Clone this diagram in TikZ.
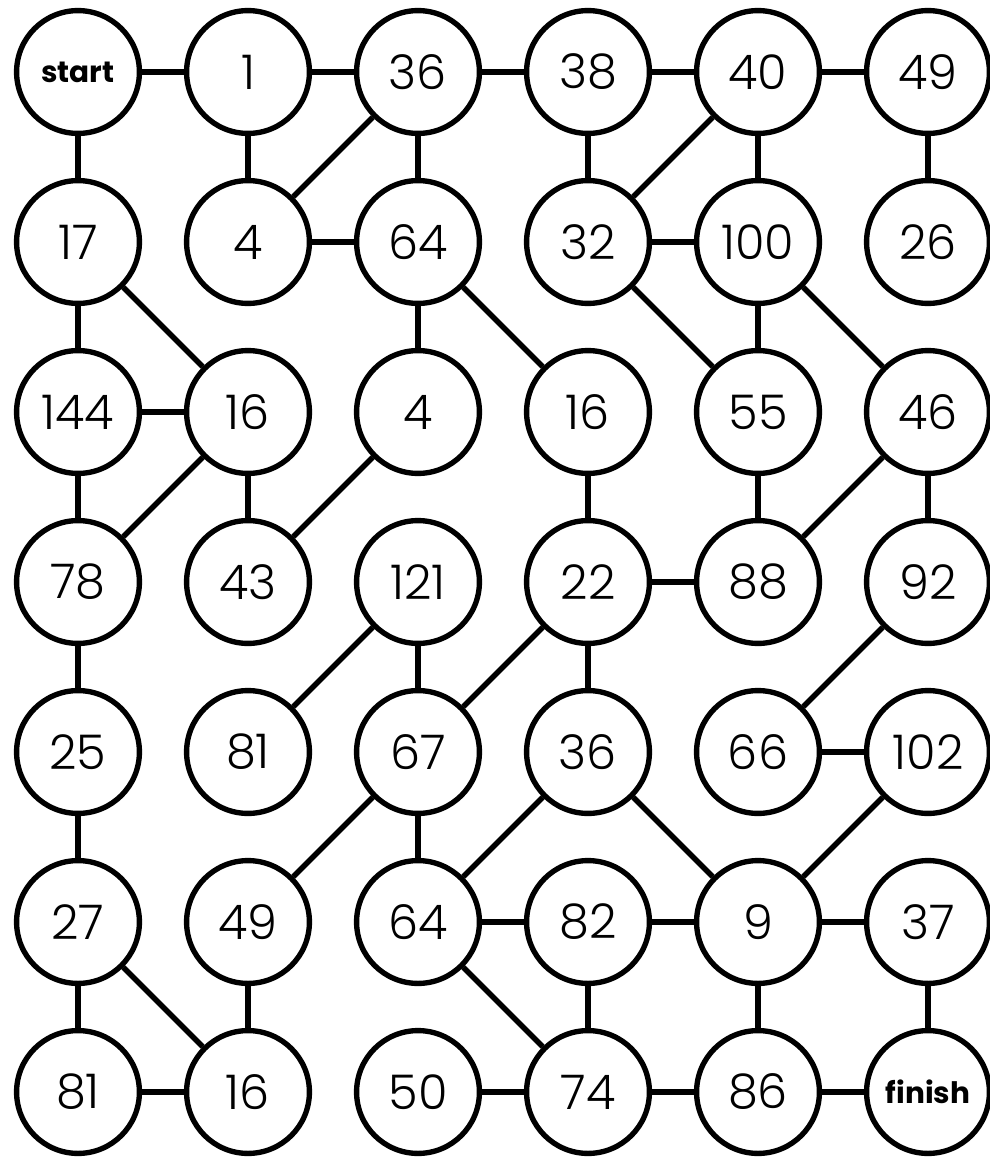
\documentclass[tikz,border=0pt]{standalone}
\usepackage{fontspec}
\setmainfont{Poppins Light}[BoldFont={Poppins Bold}]
\begin{document}
\begin{tikzpicture}[x=0.025cm, y=-0.025cm,
		cell/.style={draw, circle, line width=3.8pt, minimum size=3.07cm, inner sep=0pt, font=\fontsize{34}{40}\selectfont},
		tag/.style={cell, font=\fontsize{21}{24}\selectfont\bfseries},
		link/.style={line width=3.8pt}]
		\useasboundingbox (0,0) rectangle (989,1160);
		% 第一行
		\node[tag]  (N00) at (78,72) {start};
		\node[cell] (N01) at (248,72) {1};
		\node[cell] (N02) at (418,72) {36};
		\node[cell] (N03) at (588,72) {38};
		\node[cell] (N04) at (758,72) {40};
		\node[cell] (N05) at (928,72) {49};
		% 第二行
		\node[cell] (N10) at (78,242) {17};
		\node[cell] (N11) at (248,242) {4};
		\node[cell] (N12) at (418,242) {64};
		\node[cell] (N13) at (588,242) {32};
		\node[cell] (N14) at (758,242) {100};
		\node[cell] (N15) at (928,242) {26};
		% 第三行
		\node[cell] (N20) at (78,412) {144};
		\node[cell] (N21) at (248,412) {16};
		\node[cell] (N22) at (418,412) {4};
		\node[cell] (N23) at (588,412) {16};
		\node[cell] (N24) at (758,412) {55};
		\node[cell] (N25) at (928,412) {46};
		% 第四行
		\node[cell] (N30) at (78,582) {78};
		\node[cell] (N31) at (248,582) {43};
		\node[cell] (N32) at (418,582) {121};
		\node[cell] (N33) at (588,582) {22};
		\node[cell] (N34) at (758,582) {88};
		\node[cell] (N35) at (928,582) {92};
		% 第五行
		\node[cell] (N40) at (78,752) {25};
		\node[cell] (N41) at (248,752) {81};
		\node[cell] (N42) at (418,752) {67};
		\node[cell] (N43) at (588,752) {36};
		\node[cell] (N44) at (758,752) {66};
		\node[cell] (N45) at (928,752) {102};
		% 第六行
		\node[cell] (N50) at (78,922) {27};
		\node[cell] (N51) at (248,922) {49};
		\node[cell] (N52) at (418,922) {64};
		\node[cell] (N53) at (588,922) {82};
		\node[cell] (N54) at (758,922) {9};
		\node[cell] (N55) at (928,922) {37};
		% 第七行
		\node[cell] (N60) at (78,1092) {81};
		\node[cell] (N61) at (248,1092) {16};
		\node[cell] (N62) at (418,1092) {50};
		\node[cell] (N63) at (588,1092) {74};
		\node[cell] (N64) at (758,1092) {86};
		\node[tag]  (N65) at (928,1092) {finish};
		
		% 横向连线
		\draw[link] (N00) -- (N01);
		\draw[link] (N01) -- (N02);
		\draw[link] (N02) -- (N03);
		\draw[link] (N03) -- (N04);
		\draw[link] (N04) -- (N05);
		\draw[link] (N11) -- (N12);
		\draw[link] (N13) -- (N14);
		\draw[link] (N20) -- (N21);
		\draw[link] (N33) -- (N34);
		\draw[link] (N44) -- (N45);
		\draw[link] (N52) -- (N53);
		\draw[link] (N53) -- (N54);
		\draw[link] (N54) -- (N55);
		\draw[link] (N60) -- (N61);
		\draw[link] (N62) -- (N63);
		\draw[link] (N63) -- (N64);
		\draw[link] (N64) -- (N65);
		
		% 纵向连线
		\draw[link] (N00) -- (N10);
		\draw[link] (N01) -- (N11);
		\draw[link] (N02) -- (N12);
		\draw[link] (N03) -- (N13);
		\draw[link] (N04) -- (N14);
		\draw[link] (N05) -- (N15);
		\draw[link] (N10) -- (N20);
		\draw[link] (N12) -- (N22);
		\draw[link] (N14) -- (N24);
		\draw[link] (N20) -- (N30);
		\draw[link] (N21) -- (N31);
		\draw[link] (N23) -- (N33);
		\draw[link] (N24) -- (N34);
		\draw[link] (N25) -- (N35);
		\draw[link] (N30) -- (N40);
		\draw[link] (N32) -- (N42);
		\draw[link] (N33) -- (N43);
		\draw[link] (N40) -- (N50);
		\draw[link] (N42) -- (N52);
		\draw[link] (N50) -- (N60);
		\draw[link] (N51) -- (N61);
		\draw[link] (N53) -- (N63);
		\draw[link] (N54) -- (N64);
		\draw[link] (N55) -- (N65);
		
		% 斜向连线
		\draw[link] (N02) -- (N11);
		\draw[link] (N04) -- (N13);
		\draw[link] (N10) -- (N21);
		\draw[link] (N12) -- (N23);
		\draw[link] (N13) -- (N24);
		\draw[link] (N14) -- (N25);
		\draw[link] (N21) -- (N30);
		\draw[link] (N22) -- (N31);
		\draw[link] (N25) -- (N34);
		\draw[link] (N32) -- (N41);
		\draw[link] (N33) -- (N42);
		\draw[link] (N35) -- (N44);
		\draw[link] (N42) -- (N51);
		\draw[link] (N43) -- (N52);
		\draw[link] (N43) -- (N54);
		\draw[link] (N45) -- (N54);
		\draw[link] (N50) -- (N61);
		\draw[link] (N52) -- (N63);
	\end{tikzpicture}
\end{document}
